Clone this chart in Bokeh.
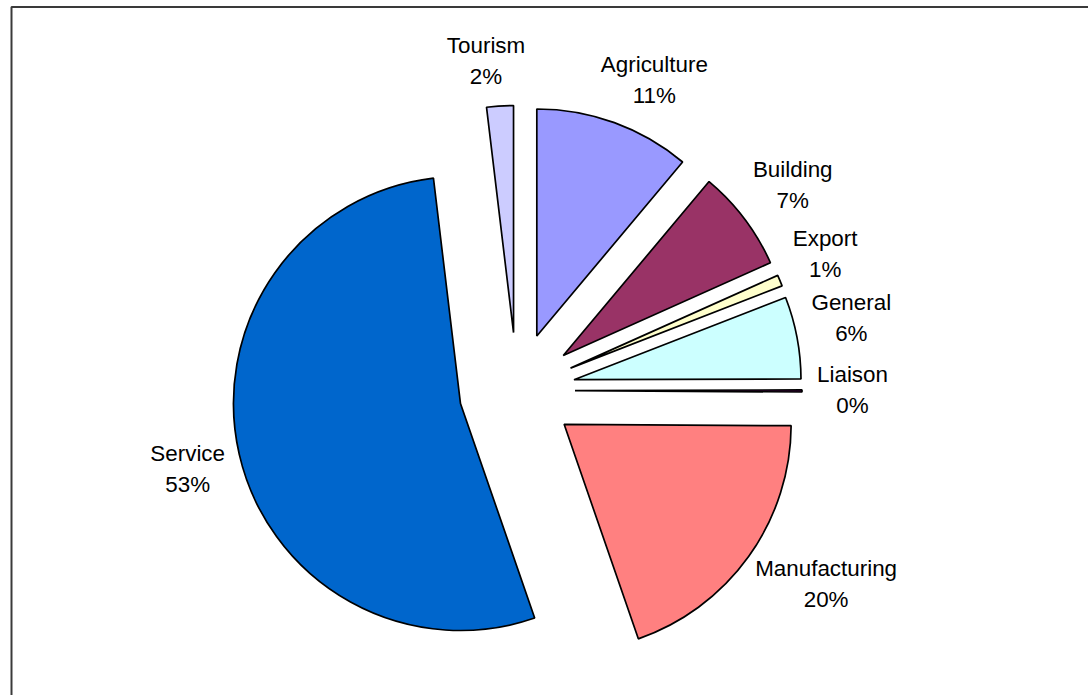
import math
from bokeh.plotting import figure
from bokeh.models import ColumnDataSource, Range1d
from bokeh.core.properties import value
from bokeh.embed import file_html
from bokeh.resources import INLINE

# ---- data ----
categories = ["Agriculture", "Building", "Export", "General", "Liaison",
              "Manufacturing", "Service", "Tourism"]
shares = [11.1, 7.2, 0.8, 5.85, 0.15, 19.6, 53.4, 1.9]
colors = ["#9999FF", "#993366", "#FFFFCC", "#CCFFFF", "#660066",
          "#FF8080", "#0066CC", "#CCCCFF"]

# ---- layout ----
W, H = 1088, 695
CX, CY = 516.5, 305.0      # pie centre (data units == pixels)
R = 227.0                  # pie radius
EXPLODE = 58.0             # explosion distance of every slice
LABEL_R = 300.0            # distance of label anchor from centre
FONT_PX = 22.4
LINE_GAP = 15.5
TEXT_SHIFT = -3            # optical vertical centring of the label block
FONT = "Liberation Sans"

# approximate Arial advance widths (per em) for label sizing
_cw = {"A": .667, "B": .667, "E": .667, "G": .778, "L": .556, "M": .833,
       "S": .667, "T": .611, "a": .556, "c": .5, "d": .556, "e": .556,
       "f": .278, "g": .556, "i": .222, "l": .222, "m": .833, "n": .556,
       "o": .556, "p": .556, "r": .333, "s": .5, "t": .278, "u": .556,
       "v": .5, "x": .5}


def text_w(s):
    return sum(_cw.get(ch, .556) for ch in s) * FONT_PX


def soft(d):
    return math.copysign(abs(d) ** 0.4, d)


total = sum(shares)
xs, ys, a0, a1, lx, ly, names, pcts = [], [], [], [], [], [], [], []
cum = 0.0
for cat, v in zip(categories, shares):
    t0 = 2 * math.pi * cum / total          # clockwise from 12 o'clock
    cum += v
    t1 = 2 * math.pi * cum / total
    bis = (t0 + t1) / 2
    dx, dy = math.sin(bis), math.cos(bis)
    xs.append(CX + EXPLODE * dx)
    ys.append(CY + EXPLODE * dy)
    a0.append(math.pi / 2 - t1)
    a1.append(math.pi / 2 - t0)
    pct = f"{round(v / total * 100):d}%"
    w = max(text_w(cat), text_w(pct))
    h = 2 * LINE_GAP + FONT_PX
    lx.append(CX + LABEL_R * dx + soft(dx) * w / 2)
    ly.append(CY + LABEL_R * dy + soft(dy) * h / 2)
    names.append(cat)
    pcts.append(pct)

src = ColumnDataSource(dict(x=xs, y=ys, start=a0, end=a1, color=colors,
                            lx=lx, ly=ly, name=names, pct=pcts))

p = figure(width=W, height=H, output_backend="svg", toolbar_location=None,
           x_range=Range1d(0, W), y_range=Range1d(0, H),
           x_axis_location=None, y_axis_location=None, min_border=0,
           background_fill_color="white", border_fill_color="white")
p.grid.visible = False
p.outline_line_color = None

p.wedge(x="x", y="y", radius=R, start_angle="start", end_angle="end",
        fill_color="color", line_color="black", line_width=1.7, source=src)

p.text(x="lx", y="ly", text="name", source=src, text_font=value(FONT),
       text_font_size=f"{FONT_PX}px", text_align="center",
       text_baseline="middle", text_color="black",
       y_offset=-LINE_GAP + TEXT_SHIFT)
p.text(x="lx", y="ly", text="pct", source=src, text_font=value(FONT),
       text_font_size=f"{FONT_PX}px", text_align="center",
       text_baseline="middle", text_color="black",
       y_offset=LINE_GAP + TEXT_SHIFT)

# chart-area frame (only the left and top edges fall inside the picture)
FRAME_L, FRAME_T = 11, H - 6.5
p.line(x=[FRAME_L, FRAME_L, W + 10], y=[-10, FRAME_T, FRAME_T],
       line_color="#3a3a3a", line_width=2)

open("out.html", "w").write(file_html(p, INLINE))
